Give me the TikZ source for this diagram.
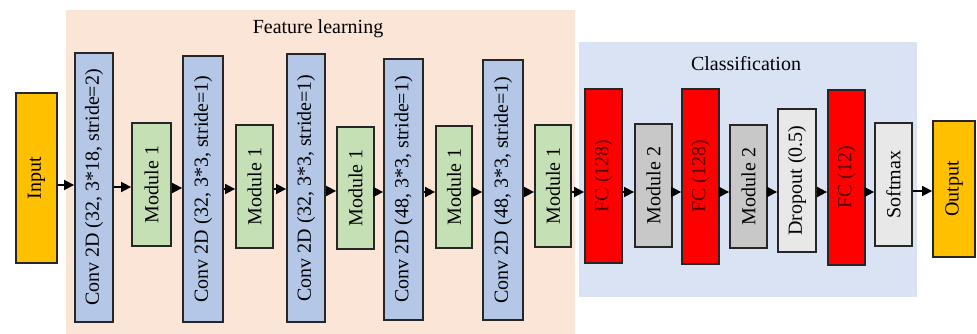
\documentclass[tikz,border=0pt]{standalone}
\usepackage{fontspec}
\setmainfont{Liberation Serif}
\usetikzlibrary{arrows.meta}
\definecolor{featbg}{HTML}{FBE5D6}
\definecolor{clsbg}{HTML}{DAE3F3}
\definecolor{convc}{HTML}{B4C7E7}
\definecolor{modc}{HTML}{C5E0B4}
\definecolor{ioc}{HTML}{FFC000}
\definecolor{fcc}{HTML}{FF0000}
\definecolor{fctext}{HTML}{5A0000}
\definecolor{modtwo}{HTML}{C8C8C8}
\definecolor{lightc}{HTML}{E8E8E8}
\tikzset{
  blk/.style={draw=black!85, line width=1.8pt, inner sep=0pt, font=\fontsize{20}{24}\selectfont},
  convbox/.style={blk, fill=convc},
  modbox/.style={blk, fill=modc},
  iobox/.style={blk, fill=ioc},
  fcbox/.style={blk, fill=fcc, text=fctext},
  modtwobox/.style={blk, fill=modtwo},
  lightbox/.style={blk, fill=lightc},
  arr/.style={line width=1.6pt, -{Triangle[length=10pt,width=10pt]}},
  title/.style={font=\fontsize{20}{24}\selectfont}
}
\newcommand{\blkat}[7]{% style, name, cx, cy, w, h, text
  \node[#1, minimum width=#5pt, minimum height=#6pt] (#2) at (#3,#4) {\rotatebox{90}{#7}};}
\begin{document}
\begin{tikzpicture}[x=1pt, y=-1pt]
\useasboundingbox (0,0) rectangle (977,334);
% group backgrounds
\fill[featbg] (66,10) rectangle (575,334);
\fill[clsbg] (579,42) rectangle (917,297);
\node[title] (ftitle) at (318,29) {Feature learning};
\node[title] (ctitle) at (746,64) {Classification};
% feature learning blocks
\blkat{iobox}{in}{36.5}{178}{41}{170}{Input}
\blkat{convbox}{c1}{94}{187.5}{38}{269}{Conv 2D (32, 3*18, stride=2)}
\blkat{modbox}{m1}{151.5}{184.5}{39}{123}{Module 1}
\blkat{convbox}{c2}{203}{189}{40}{266}{Conv 2D (32, 3*3, stride=1)}
\blkat{modbox}{m2}{254.5}{186.5}{37}{123}{Module 1}
\blkat{convbox}{c3}{306}{188}{38}{268}{Conv 2D (32, 3*3, stride=1)}
\blkat{modbox}{m3}{355.5}{188}{37}{122}{Module 1}
\blkat{convbox}{c4}{403.5}{189.5}{39}{261}{Conv 2D (48, 3*3, stride=1)}
\blkat{modbox}{m4}{454}{187}{36}{122}{Module 1}
\blkat{convbox}{c5}{503}{190}{40}{260}{Conv 2D (48, 3*3, stride=1)}
\blkat{modbox}{m5}{553}{186}{36}{122}{Module 1}
% classification blocks
\blkat{fcbox}{f1}{603.5}{176}{37}{174}{FC (128)}
\blkat{modtwobox}{n1}{653.5}{185.5}{37}{123}{Module 2}
\blkat{fcbox}{f2}{700.5}{176.5}{37}{175}{FC (128)}
\blkat{modtwobox}{n2}{748.5}{186.5}{37}{123}{Module 2}
\blkat{lightbox}{dr}{797}{180.5}{38}{143}{Dropout (0.5)}
\blkat{fcbox}{f3}{846.5}{177.5}{37}{175}{FC (12)}
\blkat{lightbox}{sm}{893.5}{184.5}{37}{123}{Softmax}
\blkat{iobox}{out}{954}{189}{42}{136}{Output}
% connectors
\draw[arr] (in.east |- 0,185) -- (c1.west |- 0,185);
\draw[arr] (c1.east |- 0,187) -- (m1.west |- 0,187);
\draw[arr] (m1.east |- 0,188) -- (c2.west |- 0,188);
\draw[arr] (c2.east |- 0,189) -- (m2.west |- 0,189);
\draw[arr] (m2.east |- 0,189) -- (c3.west |- 0,189);
\draw[arr] (c3.east |- 0,191) -- (m3.west |- 0,191);
\draw[arr] (m3.east |- 0,192) -- (c4.west |- 0,192);
\draw[arr] (c4.east |- 0,192) -- (m4.west |- 0,192);
\draw[arr] (m4.east |- 0,192) -- (c5.west |- 0,192);
\draw[arr] (c5.east |- 0,192) -- (m5.west |- 0,192);
\draw[arr] (m5.east |- 0,192) -- (f1.west |- 0,192);
\draw[arr] (f1.east |- 0,192) -- (n1.west |- 0,192);
\draw[arr] (n1.east |- 0,192) -- (f2.west |- 0,192);
\draw[arr] (f2.east |- 0,192) -- (n2.west |- 0,192);
\draw[arr] (n2.east |- 0,192) -- (dr.west |- 0,192);
\draw[arr] (dr.east |- 0,192) -- (f3.west |- 0,192);
\draw[arr] (f3.east |- 0,192) -- (sm.west |- 0,192);
\draw[arr] (sm.east |- 0,191) -- (out.west |- 0,191);
\end{tikzpicture}
\end{document}
